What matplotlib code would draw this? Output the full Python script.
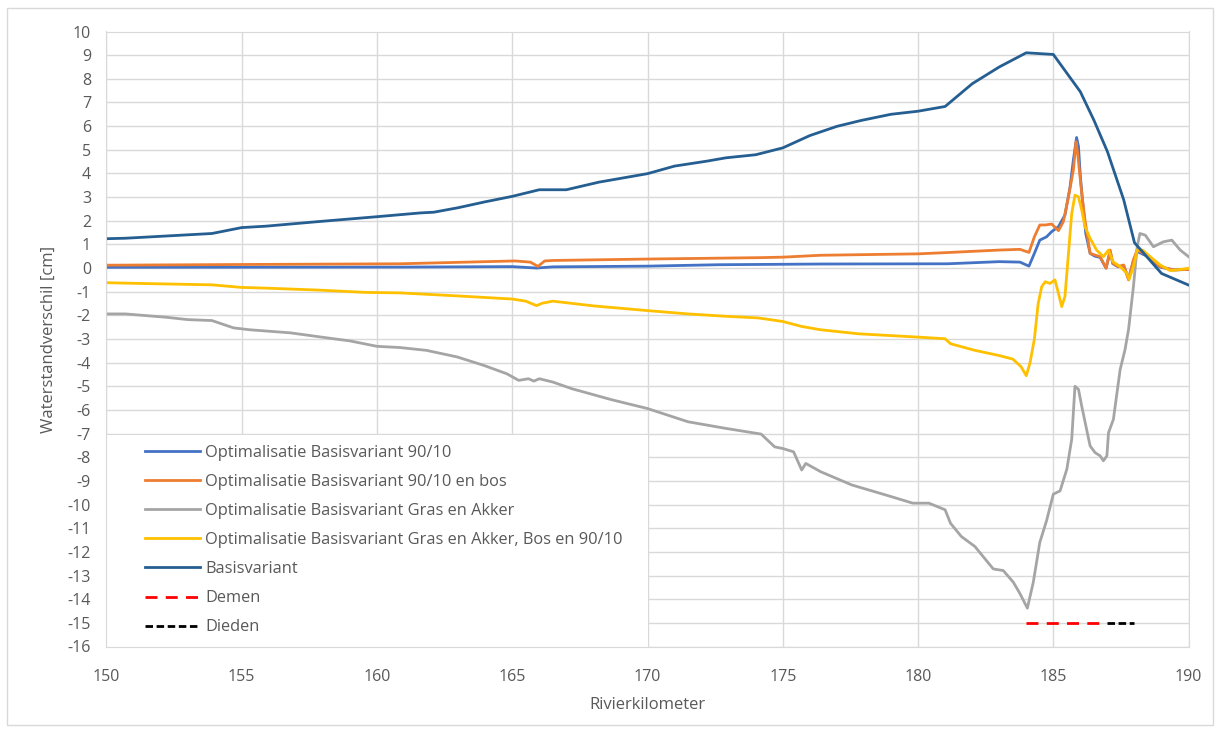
import matplotlib
matplotlib.use("Agg")
import matplotlib.pyplot as plt
from matplotlib.patches import Rectangle

plt.rcParams['font.family'] = ['Open Sans', 'DejaVu Sans']
plt.rcParams['axes.unicode_minus'] = False

# Optimalisatie Basisvariant 90/10
blu_km = [150, 160.84, 165, 165.9, 166.5, 170, 172.6, 176.4, 181.1, 183, 183.77, 184.1, 184.3,
          184.5, 184.75, 184.94, 185.19, 185.43, 185.62, 185.74, 185.86, 185.93, 186.0, 186.1,
          186.2, 186.36, 186.54, 186.73, 186.95, 187.1, 187.2, 187.4, 187.6, 187.78, 187.96,
          188.1, 188.46, 188.95, 189.44, 190]
blu = [0.03, 0.04, 0.06, 0.0, 0.05, 0.08, 0.14, 0.17, 0.18, 0.27, 0.25, 0.08, 0.62,
       1.18, 1.32, 1.54, 1.75, 2.24, 3.44, 4.56, 5.52, 5.13, 3.86, 2.6,
       1.46, 0.62, 0.5, 0.45, 0.0, 0.7, 0.18, 0.05, 0.1, -0.45, 0.3,
       0.7, 0.5, 0.04, -0.08, -0.06]

# Optimalisatie Basisvariant 90/10 en bos
org_km = [150, 155, 160.84, 165.1, 165.67, 165.95, 166.2, 166.5, 170, 174.2, 175, 176.4, 180,
          181, 183, 183.77, 184.1, 184.3, 184.5, 184.7, 184.94, 185.19, 185.37, 185.56, 185.74,
          185.84, 185.9, 186.05, 186.17, 186.36, 186.54, 186.73, 186.95, 187.1, 187.2, 187.4,
          187.6, 187.78, 187.96, 188.1, 188.46, 188.95, 189.44, 190]
org = [0.12, 0.15, 0.18, 0.3, 0.25, 0.07, 0.3, 0.32, 0.38, 0.44, 0.46, 0.54, 0.6,
       0.65, 0.76, 0.79, 0.66, 1.32, 1.82, 1.82, 1.86, 1.58, 1.96, 3.01, 4.14,
       5.34, 4.85, 3.15, 2.03, 0.62, 0.55, 0.48, -0.01, 0.76, 0.2, 0.06,
       0.13, -0.5, 0.35, 0.76, 0.55, 0.06, -0.08, -0.06]

# Optimalisatie Basisvariant Gras en Akker
gry_km = [150, 150.7, 152.2, 153, 153.9, 154.7, 155.3, 156.8, 158.4, 159, 160, 160.84, 161.83,
          162.97, 163.96, 164.8, 165.24, 165.6, 165.8, 166.0, 166.5, 167.2, 168.65, 170, 171.5,
          172.9, 174.2, 174.7, 175, 175.4, 175.7, 175.85, 176.4, 177.55, 179, 179.8, 180.4, 181,
          181.2, 181.6, 182.1, 182.6, 182.78, 183.15, 183.52, 183.77, 184.04, 184.26, 184.5,
          184.75, 185.0, 185.25, 185.5, 185.68, 185.8, 185.93, 186.05, 186.23, 186.36, 186.54,
          186.73, 186.85, 186.98, 187.04, 187.22, 187.47, 187.65, 187.78, 187.96, 188.1, 188.2,
          188.4, 188.7, 189.07, 189.38, 189.69, 190]
gry = [-1.94, -1.94, -2.08, -2.18, -2.22, -2.53, -2.61, -2.74, -2.99, -3.08, -3.31, -3.36, -3.48,
       -3.76, -4.12, -4.47, -4.75, -4.68, -4.78, -4.68, -4.82, -5.1, -5.56, -5.94, -6.5,
       -6.78, -7.02, -7.56, -7.63, -7.77, -8.54, -8.26, -8.61, -9.17, -9.66, -9.94, -9.94, -10.22,
       -10.79, -11.35, -11.77, -12.47, -12.72, -12.79, -13.28, -13.77, -14.38, -13.28, -11.6,
       -10.68, -9.56, -9.42, -8.5, -7.24, -5.0, -5.13, -5.84, -6.82, -7.52, -7.8,
       -7.94, -8.15, -7.94, -6.96, -6.4, -4.29, -3.45, -2.6, -0.79, 0.9, 1.46,
       1.39, 0.9, 1.11, 1.18, 0.76, 0.48]

# Optimalisatie Basisvariant Gras en Akker, Bos en 90/10
yel_km = [150, 151.6, 153.9, 154.7, 155, 155.9, 157.8, 159.6, 160.84, 163, 165, 165.5, 165.9,
          166.1, 166.5, 168, 170, 171.5, 172.9, 174.1, 175, 175.7, 176.4, 177.8, 180, 181, 181.2,
          182.1, 183.0, 183.5, 183.8, 184.0, 184.14, 184.3, 184.44, 184.57, 184.7, 184.88, 185.06,
          185.19, 185.31, 185.43, 185.56, 185.68, 185.8, 185.93, 186.05, 186.17, 186.36, 186.6,
          186.85, 187.04, 187.2, 187.47, 187.72, 187.8, 187.96, 188.1, 188.3, 188.58, 188.95,
          189.32, 189.7, 190]
yel = [-0.62, -0.66, -0.71, -0.79, -0.82, -0.85, -0.93, -1.03, -1.05, -1.18, -1.31, -1.4, -1.59,
       -1.49, -1.4, -1.6, -1.8, -1.94, -2.04, -2.11, -2.26, -2.47, -2.61, -2.78, -2.92, -2.99, -3.2,
       -3.48, -3.7, -3.85, -4.16, -4.55, -4.0, -3.0, -1.5, -0.79, -0.58, -0.65, -0.5,
       -1.07, -1.63, -1.2, 0.62, 2.31, 3.08, 3.01, 2.45, 1.75, 1.25, 0.76,
       0.48, 0.76, 0.27, 0.06, -0.23, -0.48, 0.06, 0.76, 0.76, 0.48, 0.13,
       -0.11, -0.06, -0.01]

# Basisvariant
bas_km = [150, 150.7, 153.9, 155, 155.9, 157.9, 160, 161.6, 162.1, 163, 164, 165, 166, 167, 168.2,
          170, 171, 172.2, 172.9, 174, 175, 176, 177, 177.9, 179, 180, 181, 182, 183, 184, 185,
          186, 186.5, 187, 187.6, 188, 189, 190]
bas = [1.24, 1.26, 1.46, 1.71, 1.77, 1.97, 2.17, 2.33, 2.36, 2.55, 2.8, 3.03, 3.31, 3.31, 3.63,
       3.99, 4.31, 4.52, 4.66, 4.79, 5.08, 5.6, 5.99, 6.24, 6.5, 6.63, 6.83, 7.79, 8.5, 9.1, 9.03,
       7.45, 6.25, 4.92, 2.89, 1.07, -0.23, -0.72]

# dijkringen
demen_km = [184, 187]
demen = [-15, -15]
dieden_km = [187, 188]
dieden = [-15, -15]

txt = '#595959'
gridc = '#D9D9D9'

fig = plt.figure(figsize=(12.22, 7.33), dpi=100)
fig.patches.append(Rectangle((7 / 1222, 8 / 733), 1206 / 1222, 717 / 733, transform=fig.transFigure,
                             fill=False, edgecolor=gridc, linewidth=1))
ax = fig.add_axes([106.4 / 1222, 1 - 646.5 / 733, 1082.2 / 1222, 615 / 733])

lw = 2.0
ax.plot(blu_km, blu, color='#4472C4', lw=lw, label='Optimalisatie Basisvariant 90/10')
ax.plot(org_km, org, color='#ED7D31', lw=lw, label='Optimalisatie Basisvariant 90/10 en bos')
ax.plot(gry_km, gry, color='#A5A5A5', lw=lw, label='Optimalisatie Basisvariant Gras en Akker')
ax.plot(yel_km, yel, color='#FFC000', lw=lw, label='Optimalisatie Basisvariant Gras en Akker, Bos en 90/10')
ax.plot(bas_km, bas, color='#255E91', lw=lw, label='Basisvariant')
ax.plot(demen_km, demen, color='#FF0000', lw=lw, dashes=(4.3, 3.0), label='Demen')
ax.plot(dieden_km, dieden, color='black', lw=lw, dashes=(2.7, 1.3), label='Dieden')

ax.set_xlim(150, 190)
ax.set_ylim(-16, 10)
ax.set_xticks(range(150, 191, 5))
ax.set_yticks(range(-16, 11))
ax.grid(True, color=gridc, lw=1)
ax.set_axisbelow(True)
for s in ax.spines.values():
    s.set_color(gridc)
ax.tick_params(length=0, labelsize=11.5, colors=txt)
ax.tick_params(axis='x', pad=16)
ax.tick_params(axis='y', pad=11)
ax.set_xlabel('Rivierkilometer', fontsize=12, color=txt, labelpad=9)
ax.set_ylabel('Waterstandverschil [cm]', fontsize=12, color=txt, labelpad=8)

# witte achtergrond van de legenda
ax.add_patch(Rectangle((150, -16), 20, 8.95, facecolor='white', edgecolor='none', zorder=1.5))
leg = ax.legend(loc='upper left', bbox_to_anchor=(0.0357, 0.328), frameon=False, fontsize=11.8,
                handlelength=3.36, handletextpad=0.3, labelspacing=0.8, borderpad=0, borderaxespad=0)
for t in leg.get_texts():
    t.set_color(txt)

plt.savefig('out.png', dpi=100)
